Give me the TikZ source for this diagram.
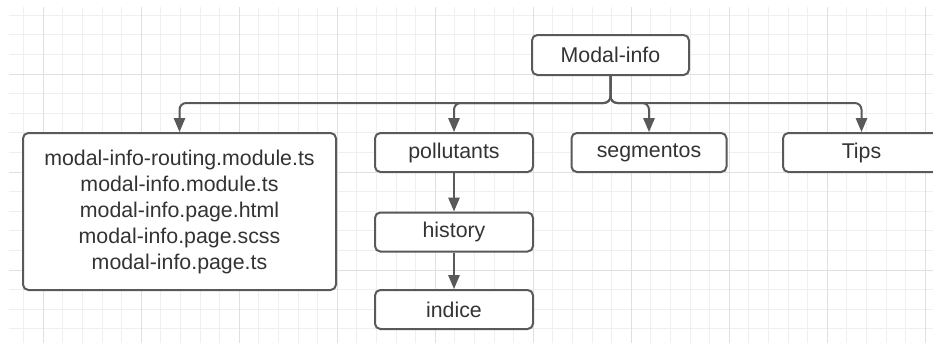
\documentclass[tikz,border=0pt]{standalone}
\usepackage{fontspec}
\setmainfont{Liberation Sans}
\usetikzlibrary{arrows.meta}
\definecolor{edge}{HTML}{595959}
\definecolor{ink}{HTML}{333333}
\definecolor{gridminor}{HTML}{EFEFEF}
\definecolor{gridmajor}{HTML}{E0E0E0}
\begin{document}
\begin{tikzpicture}[x=0.75pt,y=-0.75pt,
  box/.style={draw=edge, line width=1.5pt, rounded corners=4pt, fill=white,
    text=ink, font=\fontsize{16}{19.5}\selectfont, inner sep=0pt, align=center},
  link/.style={draw=edge, line width=1.5pt, rounded corners=5pt,
    -{Triangle[length=10.5pt,width=8.5pt]}},
  minorline/.style={draw=gridminor, line width=0.75pt},
  majorline/.style={draw=gridmajor, line width=0.75pt}]
\useasboundingbox (0,0) rectangle (933,343);
\clip (0,0) rectangle (933,343);
\fill[white] (0,0) rectangle (933,343);

% background grid
\foreach \i in {0,...,46} {\draw[minorline] ({23.7+19.6*\i},7) -- ({23.7+19.6*\i},343);}
\foreach \j in {0,...,16} {\draw[minorline] (9,{15.2+19.6*\j}) -- (933,{15.2+19.6*\j});}
\foreach \i in {0,...,9} {\draw[majorline] ({43.3+98*\i},7) -- ({43.3+98*\i},343);}
\foreach \j in {0,...,2} {\draw[majorline] (9,{74+98*\j}) -- (933,{74+98*\j});}

% boxes
\node[box, minimum width=117.75pt, minimum height=30pt] (info) at (610.5,55) {Modal-info};
\node[box, minimum width=234.75pt, minimum height=117.75pt] (files) at (179.5,211.5)
  {modal-info-routing.module.ts\\modal-info.module.ts\\modal-info.page.html\\modal-info.page.scss\\modal-info.page.ts};
\node[box, minimum width=118.5pt, minimum height=29.25pt] (pollutants) at (454,152.5) {pollutants};
\node[box, minimum width=118.5pt, minimum height=29.25pt] (history) at (454,232) {history};
\node[box, minimum width=118.5pt, minimum height=29.25pt] (indice) at (454,309.5) {indice};
\node[box, minimum width=116.25pt, minimum height=29.25pt] (segmentos) at (649,152.5) {segmentos};
\node[box, minimum width=117.75pt, minimum height=29.25pt] (tips) at (861.5,152.5) {Tips};

% connectors
\coordinate (bus) at (610.5,103);
\draw[link] (info.south) -- (bus) -| (files.north);
\draw[link] (info.south) -- (bus) -| (pollutants.north);
\draw[link] (info.south) -- (bus) -| (segmentos.north);
\draw[link] (info.south) -- (bus) -| (tips.north);
\draw[link] (pollutants.south) -- (history.north);
\draw[link] (history.south) -- (indice.north);
\end{tikzpicture}
\end{document}
